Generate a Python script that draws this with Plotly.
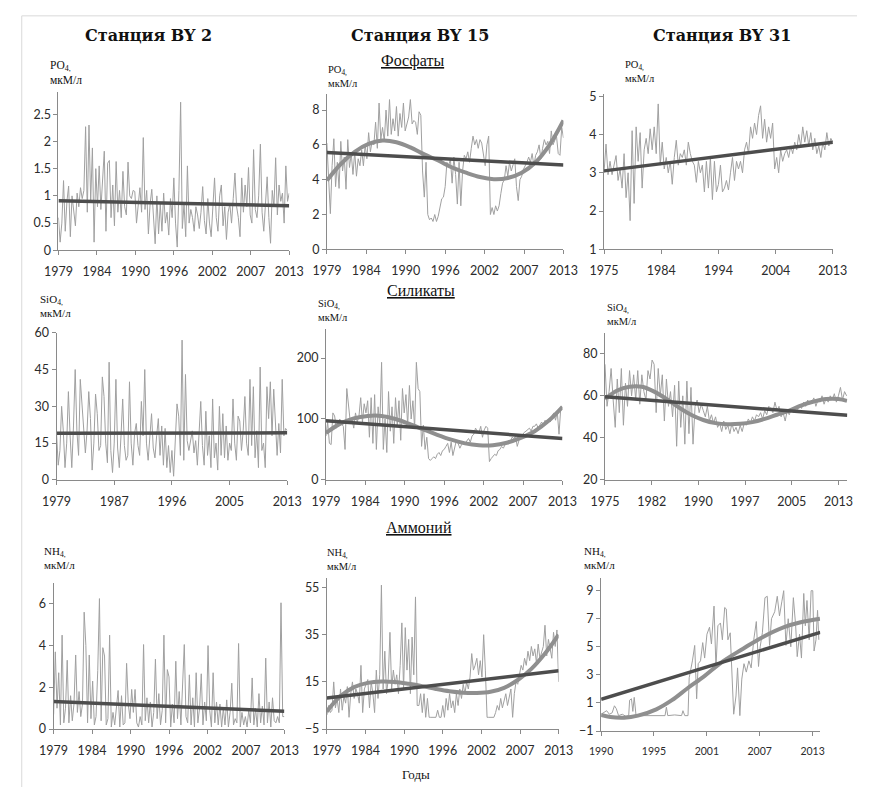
import numpy as np
import plotly.graph_objects as go

W, H = 872, 794

# ---------------- DATA ----------------
# Station BY 2 – phosphates (1979–2013, ~quarterly)
by2_po4 = [0.6, 0.15, 0.5, 1.28, 0.35, 0.9, 1.18, 0.25, 1.0, 0.7, 0.45, 1.05, 0.8, 1.15, 0.95, 1.1,
           2.27, 0.7, 2.3, 0.9, 1.88, 0.15, 1.5, 0.8, 1.55, 0.75, 1.3, 1.82, 0.35, 1.6, 1.65, 0.6,
           1.2, 0.45, 1.63, 0.7, 1.1, 0.6, 1.45, 0.8, 0.65, 1.62, 1.0, 0.95, 1.1, 1.08, 0.5, 0.9,
           1.15, 0.7, 2.07, 0.75, 1.1, 0.3, 0.85, 1.12, 0.6, 0.12, 1.0, 0.3, 0.85, 0.35, 1.05, 0.5,
           0.7, 0.28, 0.95, 0.6, 1.33, 0.5, 0.06, 1.1, 2.72, 0.4, 0.85, 0.25, 1.55, 0.5, 0.75, 0.6,
           0.35, 0.8, 0.65, 0.4, 0.7, 1.17, 0.55, 0.3, 0.95, 0.5, 0.25, 0.7, 1.33, 0.6, 0.35, 1.0,
           1.2, 0.45, 0.8, 0.2, 0.7, 0.85, 0.5, 0.95, 1.42, 0.8, 0.6, 0.25, 1.33, 0.7, 1.2, 0.8,
           1.52, 0.65, 0.5, 1.85, 0.75, 0.6, 1.0, 1.95, 0.7, 0.35, 0.9, 1.35, 0.6, 0.13, 1.1, 0.8,
           1.7, 0.65, 1.2, 0.9, 1.05, 0.5, 1.55, 0.9, 1.05]
by2_po4_lin = [0.91, 0.82]

# Station BY 15 – phosphates
by15_po4 = [6.1, 4.0, 2.05, 4.8, 6.35, 3.6, 5.0, 3.5, 6.2, 4.5, 5.3, 3.45, 6.3, 4.7, 5.5, 4.3,
            5.6, 4.2, 5.2, 4.8, 5.7, 4.8, 6.0, 5.2, 6.7, 5.6, 6.2, 6.0, 7.3, 5.8, 8.4, 6.3,
            7.0, 6.2, 8.0, 6.5, 8.6, 6.6, 7.5, 6.8, 8.2, 6.5, 7.8, 7.0, 8.4, 6.8, 7.2, 7.6,
            8.6, 7.2, 7.4, 7.3, 6.6, 7.9, 7.7, 4.5, 3.0, 5.0, 2.0, 1.7, 1.8, 1.6, 2.0, 1.6,
            1.9, 2.4, 2.9, 3.0, 3.6, 5.0, 4.8, 5.2, 3.8, 5.3, 4.3, 2.6, 5.0, 2.5, 4.5, 5.4,
            5.2, 5.6, 5.0, 5.8, 6.5, 6.0, 6.3, 5.8, 6.3, 6.1, 5.4, 4.8, 6.0, 6.5, 2.0, 2.4,
            2.0, 2.5, 2.2, 2.5, 3.2, 3.8, 4.0, 4.8, 4.2, 5.0, 4.5, 4.8, 5.2, 3.6, 2.8, 4.0,
            4.2, 4.6, 4.8, 5.0, 5.3, 5.0, 5.5, 4.8, 5.4, 5.6, 6.0, 5.2, 5.8, 6.3, 6.0, 6.2,
            5.5, 6.8, 6.0, 6.3, 6.5, 5.5, 5.4, 7.0, 6.4]
by15_po4_lin = [5.56, 4.84]
by15_po4_poly_years = [1979, 1981, 1983, 1985, 1987, 1989, 1991, 1993, 1995, 1997, 1999, 2001, 2003, 2005, 2007, 2009, 2011, 2013]
by15_po4_poly = [3.95, 4.9, 5.6, 6.05, 6.25, 6.15, 5.85, 5.45, 5.1, 4.7, 4.4, 4.15, 4.03, 4.1, 4.4, 5.0, 6.0, 7.4]

# Station BY 31 – phosphates (1975–2013)
by31_po4 = [3.0, 3.75, 2.95, 3.3, 2.95, 3.2, 3.45, 2.8, 3.1, 2.6, 3.5, 2.35, 3.0, 1.75, 4.1,
            2.2, 4.2, 3.3, 4.05, 2.6, 3.6, 3.9, 3.5, 4.15, 3.6, 4.2, 3.5, 4.8, 3.2, 3.8,
            3.1, 3.4, 3.0, 3.3, 2.7, 3.4, 3.85, 3.2, 3.5, 3.4, 3.6, 3.2, 3.8, 3.5, 3.3,
            3.2, 2.75, 3.3, 3.0, 3.2, 2.5, 3.3, 2.6, 3.4, 2.3, 3.3, 2.5, 2.7, 3.2, 2.5,
            2.6, 2.8, 2.55, 3.0, 3.4, 2.8, 3.3, 3.1, 3.3, 3.0, 3.6, 3.8, 3.5, 4.2, 3.9,
            4.3, 4.0, 4.5, 4.75, 3.9, 4.4, 3.8, 4.2, 3.9, 4.3, 3.1, 3.4, 3.0, 3.6, 3.3,
            3.5, 3.6, 3.4, 3.7, 3.5, 3.8, 3.6, 4.0, 3.7, 4.2, 3.8, 4.1, 3.7, 4.05, 3.6,
            3.9, 3.5, 3.7, 3.4, 3.8, 3.6, 4.05, 3.7, 3.9, 3.8]
by31_po4_lin = [3.05, 3.8]

# Station BY 2 – silicates
by2_sio4 = [19, 6, 12, 30, 20, 5, 15, 36, 18, 5, 22, 45, 20, 10, 41, 31, 22, 11, 20, 36,
            25, 4, 15, 35, 27, 12, 14, 42, 34, 15, 7, 48, 12, 3, 15, 41, 13, 5, 18, 33,
            14, 8, 10, 40, 15, 6, 19, 23, 14, 10, 32, 18, 45, 15, 8, 20, 27, 13, 9, 18,
            25, 10, 22, 6, 21, 5, 14, 3, 12, 1.5, 15, 31, 26, 10, 57, 8, 43, 16, 12, 17,
            20, 11, 16, 6, 22, 32, 14, 6, 28, 10, 18, 5, 33, 9, 15, 4, 30, 10, 27, 9,
            22, 8, 15, 12, 33, 15, 8, 26, 24, 12, 20, 34, 15, 10, 41, 14, 38, 9, 20, 5,
            46, 12, 15, 5, 38, 25, 40, 18, 37, 20, 10, 23, 11, 41, 18, 21, 20]
by2_sio4_lin = [19.0, 19.2]

# Station BY 15 – silicates
by15_sio4 = [72, 95, 60, 58, 110, 105, 85, 95, 100, 92, 88, 50, 150, 120, 95, 100,
             85, 110, 95, 105, 135, 95, 125, 110, 130, 70, 135, 60, 140, 50, 120, 90,
             193, 50, 100, 45, 145, 80, 120, 60, 135, 90, 130, 65, 150, 110, 140, 90,
             155, 100, 130, 85, 193, 150, 145, 55, 90, 50, 70, 35, 32, 35, 38, 35,
             42, 45, 40, 48, 50, 55, 60, 45, 62, 40, 55, 65, 60, 52, 58, 62,
             60, 65, 68, 62, 72, 75, 85, 80, 78, 88, 70, 82, 88, 85, 30, 35,
             38, 42, 40, 48, 50, 55, 52, 58, 60, 65, 62, 70, 68, 72, 55, 65,
             70, 75, 78, 80, 82, 85, 80, 88, 88, 92, 85, 90, 95, 90, 98, 92,
             100, 95, 105, 110, 98, 112, 75, 118, 115]
by15_sio4_lin = [97, 68]
by15_sio4_poly_years = [1979, 1981, 1983, 1985, 1987, 1989, 1991, 1993, 1995, 1997, 1999, 2001, 2003, 2005, 2007, 2009, 2011, 2013]
by15_sio4_poly = [77, 92, 101, 105, 105, 100, 92, 83, 74, 66, 60, 57, 57, 61, 69, 80, 97, 120]

# Station BY 31 – silicates (1975–2014)
by31_sio4 = [75, 55, 62, 73, 58, 45, 68, 52, 73, 46, 66, 55, 72, 60, 70, 58, 72, 56,
             70, 62, 58, 72, 68, 77, 75, 52, 73, 60, 70, 48, 68, 55, 62, 50, 65, 36,
             67, 45, 60, 37, 67, 42, 64, 37, 55, 58, 52, 56, 53, 50, 55, 48, 51, 47,
             50, 45, 47, 43, 48, 44, 46, 42, 47, 43, 45, 42, 46, 43, 47, 46, 49, 47,
             50, 48, 51, 50, 52, 49, 53, 51, 55, 54, 52, 57, 53, 55, 50, 52, 48, 53,
             51, 54, 52, 55, 53, 56, 54, 57, 55, 58, 56, 57, 59, 55, 58, 57, 60, 56,
             59, 57, 60, 58, 61, 57, 60, 64, 58, 62, 60]
by31_sio4_lin = [59.6, 50.7]
by31_sio4_poly_years = [1975, 1977, 1979, 1981, 1983, 1985, 1987, 1989, 1991, 1993, 1995, 1997, 1999, 2001, 2003, 2005, 2007, 2009, 2011, 2013, 2014.4]
by31_sio4_poly = [58.5, 62.5, 64.3, 64.3, 62, 58.5, 54.5, 51, 48.5, 47, 46.5, 46.7, 47.5, 49, 51, 53, 55.5, 57.3, 58.5, 58.5, 57.6]

# Station BY 2 – ammonium
by2_nh4 = [0.7, 3.7, 1.0, 2.7, 0.2, 4.5, 0.3, 1.0, 3.3, 0.3, 1.6, 0.4, 1.2, 3.55, 0.8, 1.8,
           0.6, 1.2, 5.6, 4.0, 0.3, 3.55, 0.5, 2.3, 0.2, 0.6, 2.8, 6.25, 0.4, 3.9, 3.5, 0.2,
           0.5, 4.5, 0.1, 0.8, 0.2, 1.0, 1.85, 0.1, 1.6, 0.2, 0.3, 3.15, 1.2, 0.5, 1.9, 0.8,
           1.9, 0.3, 0.1, 0.6, 0.2, 4.05, 0.4, 1.5, 0.3, 1.3, 0.1, 0.8, 3.35, 0.5, 1.7, 0.2,
           0.9, 4.5, 0.3, 2.85, 2.5, 0.1, 1.2, 0.3, 3.25, 0.5, 1.8, 0.2, 2.0, 4.05, 0.6, 0.3,
           2.6, 0.2, 1.5, 0.1, 2.7, 0.3, 1.0, 2.65, 0.2, 1.3, 0.4, 4.0, 0.9, 0.1, 2.7, 0.3,
           1.3, 0.2, 1.2, 0.1, 1.0, 0.2, 1.4, 0.1, 0.8, 2.2, 0.2, 0.5, 0.3, 4.1, 0.1, 0.8,
           0.2, 0.6, 0.1, 0.9, 0.3, 2.45, 0.2, 1.0, 0.1, 1.7, 0.3, 1.1, 0.2, 3.4, 0.3, 1.3,
           0.1, 1.5, 0.4, 0.3, 0.6, 0.3, 6.05, 0.6, 0.6]
by2_nh4_lin = [1.32, 0.86]

# Station BY 15 – ammonium
by15_nh4 = [1, 5, 2, 3, 15, 4, 8, 2, 12, 3, 9, 6, 13, 0, 10, 15, 8, 12, 10, 6, 22, 2, 12, 14,
            16, 4, 15, 10, 2, 20, 8, 18, 56, 12, 28, 10, 16, 36, 12, 20, 14, 18, 10, 22,
            40, 12, 38, 20, 33, 10, 34, 18, 51, 5, 5, 10, 2, 10, 0, 8, 0, 0, 0, 0, 0, 3, 0, 0,
            5, 0, 8, 3, 10, 4, 7, 2, 10, 5, 12, 8, 14, 10, 15, 12, 17, 27, 20, 22, 25, 18, 24, 17,
            35, 20, 0, 0, 0, 0, 0, 2, 5, 3, 8, 4, 7, 10, 5, 9, 12, 0, 10, 15, 14, 18, 22, 20,
            25, 22, 28, 24, 30, 26, 29, 23, 31, 25, 28, 30, 39, 26, 33, 28, 25, 36, 30, 37, 15]
by15_nh4_lin = [8.2, 19.7]
by15_nh4_poly_years = [1979, 1981, 1983, 1985, 1987, 1989, 1991, 1993, 1995, 1997, 1999, 2001, 2003, 2005, 2007, 2009, 2011, 2013]
by15_nh4_poly = [2.5, 9, 12.8, 14.6, 15.2, 15, 14.2, 13.2, 12, 11, 10.4, 10.3, 10.8, 12.5, 15.8, 20.5, 27, 35]

# Station BY 31 – ammonium (1990–2013)
by31_nh4_years = [1990.0, 1990.3, 1990.6, 1990.9, 1991.2, 1991.45, 1991.65, 1991.9, 1992.3, 1992.7,
                  1993.0, 1993.1, 1993.3, 1993.45, 1993.6, 1993.8, 1995.0, 1996.5, 1996.95, 1997.1,
                  1997.25, 1998.0, 1998.75, 1998.9, 1999.1, 1999.45,
                  1999.58, 1999.93, 2000.18, 2000.39, 2000.56, 2000.81, 2001.05, 2001.26, 2001.51, 2001.79,
                  2002.0, 2002.28, 2002.49, 2002.7, 2002.98, 2003.19, 2003.44, 2003.61, 2003.79, 2004.04,
                  2004.25, 2004.42, 2004.67, 2004.84, 2005.09, 2005.3, 2005.54, 2005.79, 2006.07, 2006.32,
                  2006.6, 2006.88, 2007.12, 2007.3, 2007.54, 2007.82, 2008.07, 2008.32, 2008.53, 2008.88,
                  2009.16, 2009.4, 2009.65, 2009.86, 2010.1, 2010.35, 2010.63, 2010.91, 2011.16, 2011.33,
                  2011.58, 2011.79, 2012.04, 2012.21, 2012.39, 2012.63, 2012.84, 2013.02, 2013.16, 2013.37,
                  2013.54, 2013.68]
by31_nh4 = [0.2, 0.3, 0.45, 0.2, 0.3, 0.8, 0.6, 0.1, 0.2, 0.05,
            0.1, 1.2, 1.3, 0.4, 1.4, 0.1, 0.1, 0.1, 0.1, 0.7,
            0.1, 0.15, 0.1, 0.45, 0.1, 0.1,
            2.8, 4.0, 5.1, 1.3, 3.8, 4.0, 5.3, 4.2, 5.9, 6.4,
            5.2, 7.9, 3.5, 6.5, 6.7, 5.5, 7.8, 7.7, 5.5, 6.0,
            2.0, 0.2, 1.5, 3.5, 0.1, 2.7, 3.8, 3.2, 4.0, 3.5,
            5.5, 6.8, 3.6, 5.0, 6.0, 8.5, 8.6, 5.1, 7.0, 7.5,
            8.6, 7.2, 8.2, 9.0, 5.1, 7.0, 5.0, 8.5, 6.5, 4.3,
            5.9, 4.2, 8.8, 6.5, 8.3, 5.5, 9.0, 9.0, 4.7, 5.5,
            7.6, 5.5]
by31_nh4_lin = [1.27, 6.03]
by31_nh4_poly_years = [1990, 1991, 1992.5, 1994, 1996, 1997.7, 1999.4, 2001.2, 2003.1, 2005.4, 2007.3, 2009.9, 2011.7, 2013.8]
by31_nh4_poly = [0.15, 0.0, -0.05, 0.1, 0.55, 1.2, 2.05, 2.9, 3.9, 4.85, 5.6, 6.4, 6.75, 7.0]

# tick labels
ticks_a = ['1979', '1984', '1990', '1996', '2002', '2007', '2013']
ticks_b = ['1975', '1984', '1994', '2004', '2013']
ticks_c = ['1979', '1987', '1996', '2005', '2013']
ticks_d = ['1975', '1982', '1990', '1997', '2005', '2013']
ticks_e = ['1990', '1995', '2001', '2007', '2013']

titles = ['Станция BY 2', 'Станция BY 15', 'Станция BY 31']
headings = ['Фосфаты', 'Силикаты', 'Аммоний']
xlabel = 'Годы'
unit = 'мкМ/л'

# ---------------- LAYOUT / STYLE ----------------
NOISE = '#a0a0a0'
LIN = '#4d4d4d'
POLY = '#8f8f8f'
AX = '#8a8a8a'
TXT = '#2b2b2b'


def px_x(p):
    return p / W


def px_y(p):
    return 1 - p / H


panels = [
    dict(v=by2_po4, span=(1979, 2013), lin=by2_po4_lin, box=(45, 284, 86, 247), yr=[0, 2.9], dt=0.5, t0=0,
         xr=[1979, 2013], tk=(1979, 2013), tl=ticks_a),
    dict(v=by15_po4, span=(1979, 2013), lin=by15_po4_lin, py=by15_po4_poly_years, pv=by15_po4_poly,
         box=(323, 568, 88, 246), yr=[0, 8.9], dt=2, t0=0, xr=[1979, 2013], tk=(1979, 2013), tl=ticks_a),
    dict(v=by31_po4, span=(1975, 2013), lin=by31_po4_lin, box=(610, 847, 88, 246), yr=[1, 5.05], dt=1, t0=1,
         xr=[1975, 2013], tk=(1975, 2013), tl=ticks_b),
    dict(v=by2_sio4, span=(1979, 2013), lin=by2_sio4_lin, box=(43, 282, 331, 481), yr=[0, 60], dt=15, t0=0,
         xr=[1979, 2013], tk=(1979, 2013), tl=ticks_c),
    dict(v=by15_sio4, span=(1979, 2013), lin=by15_sio4_lin, py=by15_sio4_poly_years, pv=by15_sio4_poly,
         box=(322, 567, 327, 481), yr=[0, 248], dt=100, t0=0, xr=[1979, 2013], tk=(1979, 2013), tl=ticks_a),
    dict(v=by31_sio4, span=(1975, 2014.33), lin=by31_sio4_lin, py=by31_sio4_poly_years, pv=by31_sio4_poly,
         box=(611, 862, 331, 481), yr=[20, 90], dt=20, t0=20, xr=[1975, 2014.45], tk=(1975, 2013), tl=ticks_d),
    dict(v=by2_nh4, span=(1979, 2013), lin=by2_nh4_lin, box=(40, 279, 586, 735), yr=[0, 7], dt=2, t0=0,
         xr=[1979, 2013], tk=(1979, 2013), tl=ticks_a),
    dict(v=by15_nh4, span=(1979, 2013), lin=by15_nh4_lin, py=by15_nh4_poly_years, pv=by15_nh4_poly,
         box=(323, 563, 581, 735), yr=[-5, 59], dt=20, t0=-5, xr=[1979, 2013], tk=(1979, 2013), tl=ticks_a),
    dict(v=by31_nh4, yrs=by31_nh4_years, lin=by31_nh4_lin, py=by31_nh4_poly_years, pv=by31_nh4_poly,
         box=(607, 834, 581, 737), yr=[-1, 9.9], dt=2, t0=-1, xr=[1990, 2013.84], tk=(1990, 2013), tl=ticks_e,
         xfs=10.5),
]

fig = go.Figure()

for i, p in enumerate(panels, start=1):
    xa = 'x' if i == 1 else f'x{i}'
    ya = 'y' if i == 1 else f'y{i}'
    if 'yrs' in p:
        xs = p['yrs']
    else:
        s, e = p['span']
        xs = np.linspace(s, e, len(p['v']))
    fig.add_trace(go.Scatter(x=xs, y=p['v'], mode='lines', line=dict(color=NOISE, width=1),
                             xaxis=xa, yaxis=ya, showlegend=False, hoverinfo='skip'))
    if 'py' in p:
        fig.add_trace(go.Scatter(x=p['py'], y=p['pv'], mode='lines',
                                 line=dict(color=POLY, width=4, shape='spline', smoothing=1.0),
                                 xaxis=xa, yaxis=ya, showlegend=False, hoverinfo='skip'))
    fig.add_trace(go.Scatter(x=p['xr'], y=p['lin'], mode='lines', line=dict(color=LIN, width=3.5),
                             xaxis=xa, yaxis=ya, showlegend=False, hoverinfo='skip'))

    l, r, t, b = p['box']
    tv = list(np.linspace(p['tk'][0], p['tk'][1], len(p['tl'])))
    xkey = 'xaxis' if i == 1 else f'xaxis{i}'
    ykey = 'yaxis' if i == 1 else f'yaxis{i}'
    fig.layout[xkey] = dict(domain=[px_x(l), px_x(r)], range=p['xr'], anchor=ya,
                            tickmode='array', tickvals=tv, ticktext=p['tl'],
                            showline=True, linecolor=AX, linewidth=1, ticks='outside', ticklen=4,
                            tickcolor=AX, showgrid=False, zeroline=False, ticklabelstandoff=6,
                            tickfont=dict(family='Lato', size=p.get('xfs', 12.5), color=TXT))
    fig.layout[ykey] = dict(domain=[px_y(b), px_y(t)], range=p['yr'], anchor=xa,
                            tick0=p['t0'], dtick=p['dt'],
                            showline=True, linecolor=AX, linewidth=1, ticks='outside', ticklen=4,
                            tickcolor=AX, showgrid=False, zeroline=False,
                            tickfont=dict(family='Lato', size=12.5, color=TXT))

ann = []


def txt(s, x, y, size, family='Liberation Serif', xanchor='center', bold=False):
    ann.append(dict(text=s, x=px_x(x), y=px_y(y), xref='paper', yref='paper', showarrow=False,
                    xanchor=xanchor, yanchor='middle', align='left',
                    font=dict(family=family, size=size, color='#111',
                              weight='bold' if bold else 'normal')))


# station titles
for s, cx in zip(titles, [138, 419, 732]):
    txt(s, cx, 28, 16, family='DejaVu Serif', bold=True)

# section headings
for s, (cx, cy) in zip(headings, [(412, 54), (420, 288), (418, 530)]):
    txt(f'<u>{s}</u>', cx, cy, 16)

txt(xlabel, 415, 781, 13)

# unit labels (two-line: formula + units)
units = [
    ('PO', 34, 66, 11.5), ('PO', 322, 70, 10.5), ('PO', 630, 65, 10.5),
    ('SiO', 24, 304, 11), ('SiO', 312, 308, 10.5), ('SiO', 611, 312, 10.5),
    ('NH', 28, 561, 11), ('NH', 321, 562, 10.5), ('NH', 587, 561, 11),
]
for name, x, yc, fs in units:
    txt(f'{name}<sub>4,</sub><br>{unit}', x, yc, fs, xanchor='left')

fig.update_layout(
    width=W, height=H, margin=dict(l=0, r=0, t=0, b=0),
    paper_bgcolor='white', plot_bgcolor='white',
    annotations=ann,
    shapes=[
        dict(type='line', xref='paper', yref='paper', x0=px_x(7), x1=1, y0=px_y(8), y1=px_y(8),
             line=dict(color='#d9d9d9', width=1)),
        dict(type='line', xref='paper', yref='paper', x0=px_x(7), x1=px_x(7), y0=0, y1=px_y(8),
             line=dict(color='#d9d9d9', width=1)),
    ],
)

fig.write_html('out.html')
